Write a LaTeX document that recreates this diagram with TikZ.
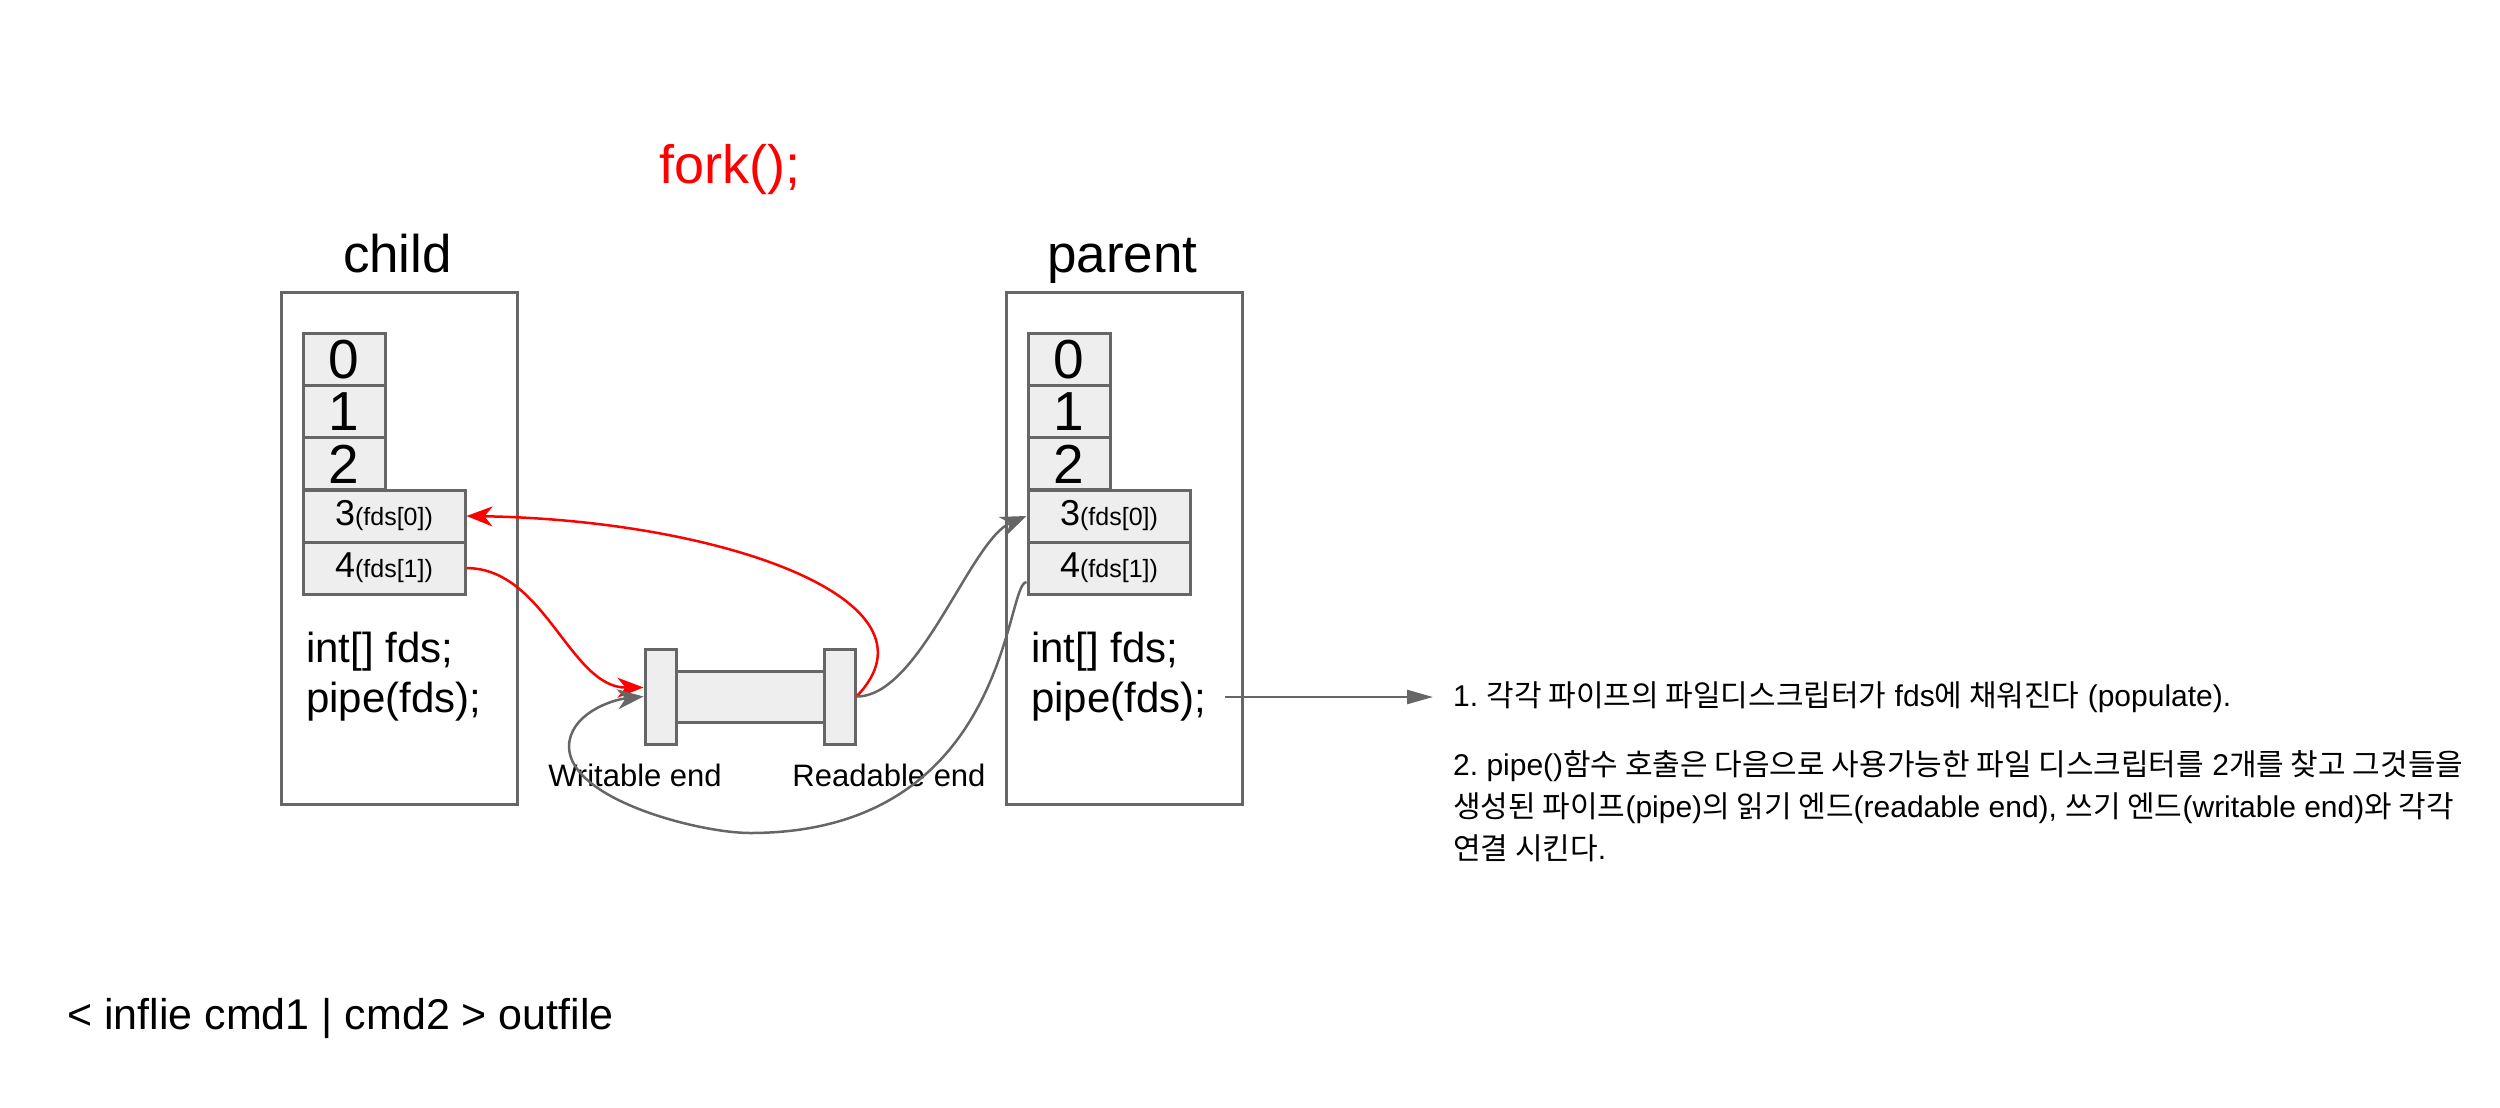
\documentclass[tikz,border=0pt]{standalone}
\usepackage{fontspec}
\setmainfont{Liberation Sans}
\newfontfamily\krfont{Noto Sans CJK KR}
\newcommand{\hangul}[1]{{\krfont #1}}
\usetikzlibrary{arrows.meta}
\definecolor{linegray}{HTML}{666666}
\definecolor{cellfill}{HTML}{EEEEEE}
\tikzset{
    procbox/.style={draw=linegray, line width=3pt, minimum width=236pt, minimum height=512pt, inner sep=0pt},
    fdcell/.style={draw=linegray, fill=cellfill, line width=3pt, minimum height=52pt, inner sep=0pt},
    fdnarrow/.style={fdcell, minimum width=82pt, font=\fontsize{55}{60}\selectfont},
    fdwide/.style={fdcell, minimum width=162pt, font=\fontsize{36}{40}\selectfont},
    pipepart/.style={draw=linegray, fill=cellfill, line width=3pt, inner sep=0pt},
    redflow/.style={draw=red, line width=2.5pt, -{Stealth[length=26pt,width=20pt,inset=8pt]}},
    grayflow/.style={draw=linegray, line width=2.5pt, -{Stealth[length=26pt,width=20pt,inset=8pt]}},
    noteflow/.style={draw=linegray, line width=2.5pt, -{Triangle[length=26pt,width=14pt]}},
    title/.style={font=\fontsize{53}{60}\selectfont, inner sep=0pt},
    code/.style={font=\fontsize{42}{50}\selectfont, inner sep=0pt},
    endlabel/.style={font=\fontsize{31}{36}\selectfont, inner sep=0pt},
    note/.style={font=\fontsize{30}{42}\selectfont, inner sep=0pt},
}
\newcommand{\fdsub}[1]{{\fontsize{25}{30}\selectfont(#1)}}
\begin{document}
\begin{tikzpicture}[x=1pt, y=-1pt]
        \useasboundingbox (0,0) rectangle (2500,1108);
        %fork call
        \node[title, text=red, anchor=base, font=\fontsize{54}{60}\selectfont] (fork) at (730,183) {fork();};
        %draw both processes
        \foreach \pr/\dx/\lbl in {c/0/child, p/725/parent} {
            \node[title, anchor=base] (\pr title) at (397.5+\dx,272) {\lbl};
            \node[procbox] (\pr box) at (399+\dx,548) {};
            \foreach \i in {0,1,2}
                \node[fdnarrow] (\pr\i) at (344+\dx,359.7+52.1*\i) {\i};
            \node[fdwide] (\pr3) at (384+\dx,516) {3\fdsub{fds[0]}};
            \node[fdwide] (\pr4) at (384+\dx,568.1) {4\fdsub{fds[1]}};
            \node[code, anchor=base west] (\pr int) at (306+\dx,662) {int[] fds;};
            \node[code, anchor=base west] (\pr call) at (306+\dx,712) {pipe(fds);};
        }
        %draw pipe
        \node[pipepart, minimum width=148pt, minimum height=51pt] (pbody) at (750,696.5) {};
        \node[pipepart, minimum width=31pt, minimum height=95pt] (wflange) at (660.5,696.5) {};
        \node[pipepart, minimum width=31pt, minimum height=95pt] (rflange) at (839.5,696.5) {};
        %label pipe ends
        \node[endlabel, anchor=base] (wlabel) at (635,786) {Writable end};
        \node[endlabel, anchor=base] (rlabel) at (889,786) {Readable end};
        %notes
        \node[note, anchor=west] (note1) at (1453,697) {1.\ \hangul{각각 파이프의 파일디스크립터가} fds\hangul{에 채워진다} (populate).};
        \node[note, anchor=base west] (note2) at (1453,775) {2.\ pipe()\hangul{함수 호출은 다음으로 사용가능한 파일 디스크립터를} 2\hangul{개를 찾고 그것들을}};
        \node[note, anchor=base west] (note3) at (1453,817) {\hangul{생성된 파이프}(pipe)\hangul{의 읽기 엔드}(readable end), \hangul{쓰기 엔드}(writable end)\hangul{와 각각}};
        \node[note, anchor=base west] (note4) at (1453,859) {\hangul{연결 시킨다}.};
        %command line
        \node[code, anchor=base west, font=\fontsize{43}{50}\selectfont] (cmdline) at (67,1029) {< inflie cmd1 | cmd2 > outfile};
        %child fds to pipe
        \draw[redflow] (c4.east) .. controls (545,568) and (570,688) .. ([yshift=9pt]wflange.west);
        \draw[redflow] (rflange.east) .. controls (950,600) and (720,520) .. (c3.east);
        %parent fds to pipe
        \draw[grayflow] (rflange.east) .. controls (920,697) and (970,540) .. (p3.west);
        \draw[grayflow] ([yshift=-14pt]p4.west) .. controls (1005,582) and (1010,833) .. (750,833)
            .. controls (700,833) and (570,800) .. (569,747)
            .. controls (569,715) and (610,700) .. (wflange.west);
        %arrow to notes
        \draw[noteflow] (note1.west -| pcall.east) ++(19,0) -- ([xshift=-20pt]note1.west);
    \end{tikzpicture}
\end{document}
